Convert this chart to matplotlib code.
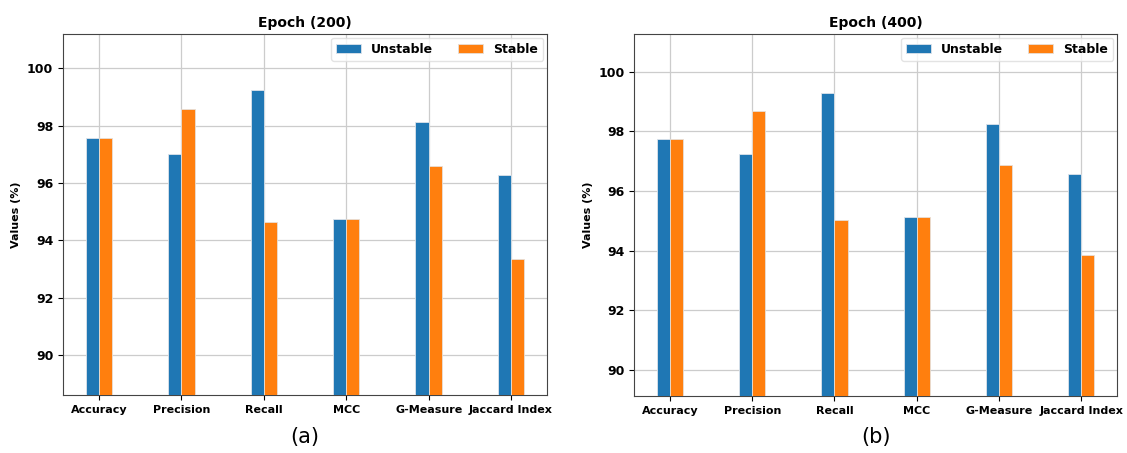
import numpy as np
import matplotlib
matplotlib.use('Agg')
import matplotlib.pyplot as plt

metrics = ['Accuracy', 'Precision', 'Recall', 'MCC', 'G-Measure', 'Jaccard Index']

# epoch 200
unstable_200 = [97.58, 97.02, 99.26, 94.73, 98.13, 96.27]
stable_200 = [97.58, 98.58, 94.64, 94.73, 96.59, 93.34]

# epoch 400
unstable_400 = [97.75, 97.25, 99.28, 95.12, 98.26, 96.56]
stable_400 = [97.75, 98.68, 95.04, 95.12, 96.86, 93.87]

yticks = [90, 92, 94, 96, 98, 100]


def draw_panel(ax, unstable, stable, title, ylim):
    x = np.arange(len(metrics))
    w = 0.16
    ax.bar(x - w / 2, unstable, w, color='#1f77b4', edgecolor='#dde3ea',
           linewidth=0.6, label='Unstable', zorder=3)
    ax.bar(x + w / 2, stable, w, color='#ff7f0e', edgecolor='#e6dfd8',
           linewidth=0.6, label='Stable', zorder=3)
    ax.set_xticks(x)
    ax.set_xticklabels(metrics, fontsize=8, fontweight='bold')
    ax.set_yticks(yticks)
    ax.set_yticklabels([str(t) for t in yticks], fontsize=9, fontweight='bold')
    ax.set_xlim(-0.437, 5.437)
    ax.set_ylim(*ylim)
    ax.grid(True, color='#cccccc', linewidth=0.9, zorder=0)
    ax.set_axisbelow(True)
    ax.set_title(title, fontsize=10, fontweight='bold', pad=5)
    ax.set_ylabel('Values (%)', fontsize=8, fontweight='bold')
    for s in ax.spines.values():
        s.set_color('#444444')
    leg = ax.legend(loc='upper right', ncol=2, prop={'weight': 'bold', 'size': 9},
                    borderaxespad=0.3)
    leg.get_frame().set_edgecolor('#dddddd')


fig = plt.figure(figsize=(11.27, 4.53), dpi=100)
ax1 = fig.add_axes([0.0559, 0.128, 0.4295, 0.797])
ax2 = fig.add_axes([0.5626, 0.126, 0.4286, 0.799])

draw_panel(ax1, unstable_200, stable_200, 'Epoch (200)', (88.6, 101.2))
draw_panel(ax2, unstable_400, stable_400, 'Epoch (400)', (89.13, 101.27))

fig.text(0.2706, 0.035, '(a)', ha='center', va='center', fontsize=15)
fig.text(0.7769, 0.035, '(b)', ha='center', va='center', fontsize=15)

fig.savefig('out.png', dpi=100)
